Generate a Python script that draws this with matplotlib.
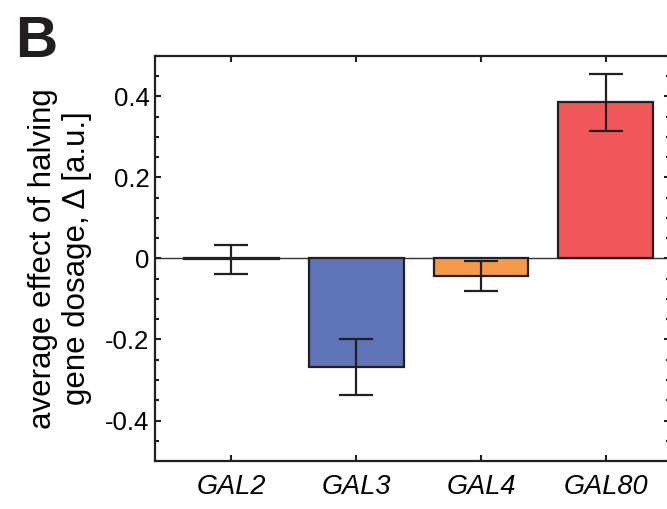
import matplotlib
matplotlib.use("Agg")
import matplotlib.pyplot as plt
from matplotlib.ticker import MultipleLocator

genes = ["GAL2", "GAL3", "GAL4", "GAL80"]
delta = [-0.002, -0.269, -0.043, 0.386]
delta_err = [0.036, 0.069, 0.038, 0.070]
colors = ["#5e74b6", "#5e74b6", "#f59a4a", "#f0585a"]
ytick_vals = [-0.4, -0.2, 0, 0.2, 0.4]
ytick_labels = ["-0.4", "-0.2", "0", "0.2", "0.4"]

plt.rcParams["font.family"] = ["Liberation Sans", "DejaVu Sans"]

fig = plt.figure(figsize=(6.67, 5.09), dpi=100)
ax = fig.add_axes([0.2324, 0.0943, 0.7714, 0.7957])

x = list(range(len(genes)))
ax.axhline(0, color="#333333", lw=1.0, zorder=1)
ax.bar(x, delta, width=0.76, color=colors, edgecolor="#231f20", linewidth=1.6, zorder=2)
ax.errorbar(x, delta, yerr=delta_err, fmt="none", ecolor="#231f20",
            elinewidth=1.6, capsize=12, capthick=1.6, zorder=3)

ax.set_xlim(-0.61, 3.51)
ax.set_ylim(-0.5, 0.5)
ax.set_xticks(x)
ax.set_xticklabels(genes, fontstyle="italic", fontsize=19.5)
ax.set_yticks(ytick_vals)
ax.set_yticklabels(ytick_labels, fontsize=18.5)
ax.yaxis.set_minor_locator(MultipleLocator(0.05))

ax.tick_params(axis="both", which="major", direction="in", length=4.3, width=1.5,
               top=True, right=True, color="#231f20")
ax.tick_params(axis="y", which="minor", direction="in", length=2.7, width=1.5,
               left=True, right=True, color="#231f20")
ax.tick_params(axis="x", pad=9)
ax.tick_params(axis="y", pad=4)

for s in ax.spines.values():
    s.set_linewidth(1.6)
    s.set_color("#231f20")

ax.set_ylabel("average effect of halving\ngene dosage, \u0394 [a.u.]", fontsize=22.5,
              va="center", linespacing=1.15)
ax.yaxis.set_label_coords(-0.185, 0.5)

fig.text(0.022, 0.888, "B", fontsize=42, fontweight="bold", ha="left", va="baseline",
         color="#231f20")

fig.savefig("out.png", dpi=100)
